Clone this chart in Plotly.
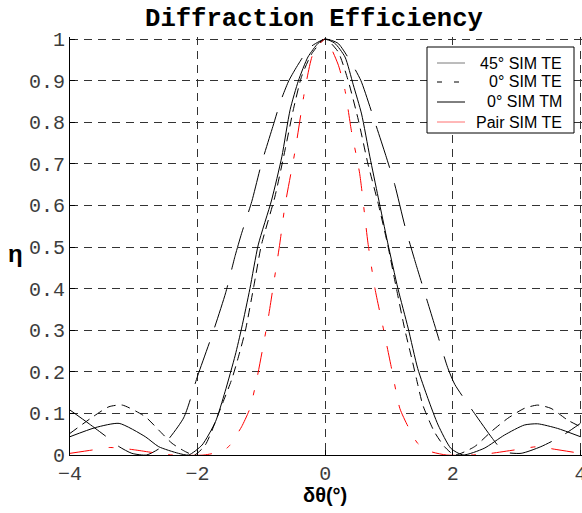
import plotly.graph_objects as go

# ---- data ----
x_45te = [-4, -3.7, -3.43, -3.23, -3.03, -2.8, -2.56, -2.22, -2.0, -1.77, -1.56, -1.41, -1.31, -1.15,
          -1.0, -0.82, -0.7, -0.57, -0.42, -0.24, 0, 0.2, 0.42, 0.56, 0.78, 0.95, 1.09, 1.25, 1.42,
          1.6, 1.72, 1.92, 2.03, 2.34, 2.62, 2.8, 3.07, 3.38, 3.69, 4]
y_45te = [0.108, 0.075, 0.044, 0.02, 0.004, 0.0, 0.02, 0.089, 0.19, 0.29, 0.39, 0.48, 0.533, 0.61,
          0.70, 0.79, 0.85, 0.90, 0.94, 0.98, 1.0, 0.99, 0.94, 0.90, 0.80, 0.72, 0.65, 0.55, 0.46,
          0.37, 0.31, 0.21, 0.17, 0.10, 0.04, 0.008, 0.004, 0.02, 0.044, 0.076]

x_0te = [-4, -3.64, -3.39, -3.18, -2.82, -2.61, -2.40, -2.19, -2.05, -1.88, -1.62, -1.46, -1.36,
         -1.25, -1.12, -1.0, -0.79, -0.63, -0.5, -0.37, -0.21, 0, 0.2, 0.36, 0.52, 0.67, 0.83, 0.98,
         1.11, 1.25, 1.36, 1.45, 1.53, 1.71, 1.87, 2.03, 2.34, 2.60, 2.86, 3.12, 3.33, 3.54, 3.80, 4]
y_0te = [0.052, 0.092, 0.116, 0.12, 0.092, 0.06, 0.028, 0.008, 0.0, 0.024, 0.12, 0.184, 0.236,
         0.30, 0.405, 0.505, 0.62, 0.733, 0.83, 0.91, 0.965, 1.0, 0.97, 0.90, 0.805, 0.70, 0.605, 0.505,
         0.405, 0.30, 0.23, 0.17, 0.12, 0.056, 0.02, 0.0, 0.02, 0.056, 0.088, 0.112, 0.12, 0.112, 0.084, 0.068]

x_0tm = [-4, -3.6, -3.23, -2.82, -2.61, -2.30, -2.14, -1.93, -1.72, -1.57, -1.41, -1.31, -1.18, -1.05,
         -0.84, -0.68, -0.55, -0.42, -0.27, -0.11, 0, 0.15, 0.31, 0.44, 0.57, 0.70, 0.83, 0.98, 1.14,
         1.30, 1.45, 1.61, 1.77, 1.97, 2.16, 2.49, 2.81, 3.12, 3.33, 3.64, 4]
y_0tm = [0.044, 0.066, 0.076, 0.044, 0.02, 0.004, 0.0, 0.024, 0.08, 0.152, 0.24, 0.305, 0.40, 0.505,
         0.613, 0.717, 0.83, 0.90, 0.957, 0.99, 1.0, 0.99, 0.957, 0.89, 0.82, 0.717, 0.62, 0.51, 0.40,
         0.305, 0.208, 0.136, 0.072, 0.016, 0.0, 0.016, 0.048, 0.072, 0.075, 0.064, 0.044]

x_pair = [-4, -3.65, -3.39, -3.18, -2.97, -2.71, -2.4, -1.9, -1.6, -1.49, -1.44, -1.31, -1.18, -1.07,
          -0.97, -0.89, -0.81, -0.71, -0.63, -0.47, -0.32, -0.19, 0, 0.2, 0.31, 0.41, 0.54, 0.67,
          0.78, 0.91, 1.04, 1.17, 1.30, 1.45, 1.66, 1.9, 2.3, 2.6, 2.96, 3.33, 3.59, 4]
y_pair = [0.004, 0.012, 0.018, 0.016, 0.012, 0.006, 0.0, 0.0, 0.01, 0.024, 0.036, 0.068, 0.112, 0.184,
          0.264, 0.332, 0.41, 0.51, 0.60, 0.733, 0.877, 0.965, 1.0, 0.94, 0.877, 0.78, 0.677, 0.51,
          0.40, 0.305, 0.208, 0.112, 0.068, 0.028, 0.008, 0.0, 0.0, 0.004, 0.012, 0.02, 0.014, 0.004]

series_names = ["45° SIM TE", "0° SIM TE", "0° SIM TM", "Pair SIM TE"]

x_tickvals = [-4, -2, 0, 2, 4]
x_ticktext = ["\u22124", "\u22122", "0", "2", "4"]
y_tickvals = [0, 0.1, 0.2, 0.3, 0.4, 0.5, 0.6, 0.7, 0.8, 0.9, 1]
y_ticktext = ["0", "0.1", "0.2", "0.3", "0.4", "0.5", "0.6", "0.7", "0.8", "0.9", "1"]

# ---- layout geometry (pixels) ----
W, H = 582, 513
ML, MR, MT, MB = 70, 0, 37, 58
PW, PH = W - ML - MR, H - MT - MB


def px2x(px):
    return (px - ML) / PW


def py2y(py):
    return (H - MB - py) / PH


fig = go.Figure()
styles = [
    dict(color="black", width=1, dash="44px,16px"),
    dict(color="black", width=1, dash="9px,6px"),
    dict(color="black", width=1, dash="solid"),
    dict(color="red", width=1, dash="23px,16px,5px,16px"),
]
for xs, ys, name, st in zip([x_45te, x_0te, x_0tm, x_pair], [y_45te, y_0te, y_0tm, y_pair],
                            series_names, styles):
    fig.add_trace(go.Scatter(x=xs, y=ys, mode="lines", name=name, showlegend=False,
                             line=dict(shape="spline", smoothing=0.6, **st)))

# ---- hand-drawn legend box (right-aligned labels, as in the reference) ----
shapes = [dict(type="rect", xref="paper", yref="paper", layer="above",
               x0=px2x(427), x1=px2x(574), y0=py2y(133), y1=py2y(47),
               line=dict(color="black", width=1), fillcolor="white")]
legend_rows = [63, 82, 102, 122]
legend_lines = [
    dict(color="#7a7a7a", width=1, dash="solid"),
    dict(color="black", width=1, dash="5px,12px"),
    dict(color="black", width=1, dash="solid"),
    dict(color="#ff7070", width=1, dash="solid"),
]
annotations = []
for row, name, ln in zip(legend_rows, series_names, legend_lines):
    shapes.append(dict(type="line", xref="paper", yref="paper", layer="above",
                       x0=px2x(437), x1=px2x(465), y0=py2y(row), y1=py2y(row), line=ln))
    annotations.append(dict(text=name, xref="paper", yref="paper", x=px2x(564), y=py2y(row),
                            xanchor="right", yanchor="middle", showarrow=False,
                            font=dict(family="Liberation Sans", size=16, color="black")))

annotations += [
    dict(text="<b>η</b>", xref="paper", yref="paper", x=px2x(15), y=py2y(253), showarrow=False,
         xanchor="center", yanchor="middle",
         font=dict(family="Liberation Sans", size=24, color="black")),
    dict(text="<b>δθ(°)</b>", xref="paper", yref="paper", x=px2x(325), y=py2y(495), showarrow=False,
         xanchor="center", yanchor="middle",
         font=dict(family="Liberation Sans", size=20, color="black")),
]

tickfont = dict(family="Liberation Mono", size=20, color="#3c3c3c")
axis_common = dict(showgrid=True, gridcolor="#333333", gridwidth=1, griddash="8px,6px",
                   showline=True, linecolor="black", linewidth=1, mirror=False,
                   ticks="inside", ticklen=5, tickcolor="black", tickfont=tickfont,
                   zeroline=False, automargin=False, ticklabeloverflow="allow")

fig.update_layout(
    width=W, height=H,
    margin=dict(l=ML, r=MR, t=MT, b=MB),
    paper_bgcolor="white", plot_bgcolor="white",
    title=dict(text="Diffraction Efficiency", x=314 / W, xanchor="center", xref="container",
               y=1 - 17 / H, yanchor="middle", yref="container",
               font=dict(family="Liberation Mono", size=25.6, color="black", weight="bold")),
    xaxis=dict(range=[-4, 4.025], tickvals=x_tickvals, ticktext=x_ticktext, **axis_common),
    yaxis=dict(range=[0, 1.005], tickvals=y_tickvals, ticktext=y_ticktext, **axis_common),
    showlegend=False,
    shapes=shapes,
    annotations=annotations,
)

fig.write_html("out.html", config={"displayModeBar": False},
               post_script="document.body.style.margin='0';")
